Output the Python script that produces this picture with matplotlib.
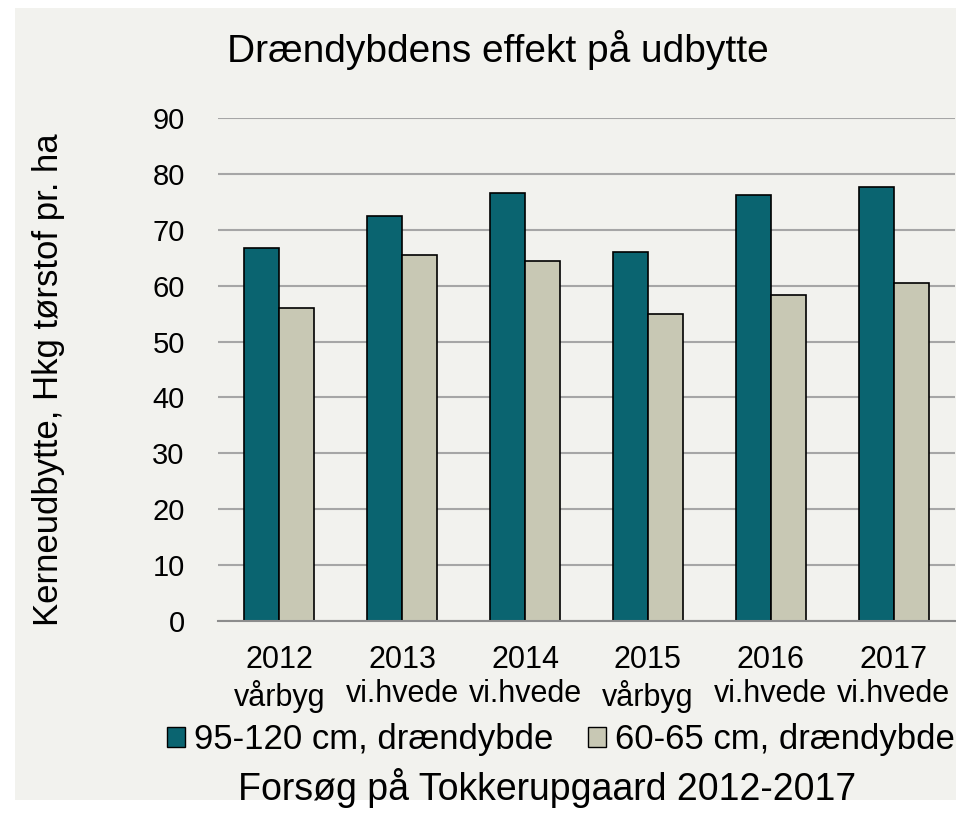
import numpy as np
import matplotlib.pyplot as plt
from matplotlib.patches import Rectangle, Patch

plt.rcParams['font.family'] = ['Liberation Sans', 'DejaVu Sans']

years = ['2012', '2013', '2014', '2015', '2016', '2017']
crops = ['vårbyg', 'vi.hvede', 'vi.hvede', 'vårbyg', 'vi.hvede', 'vi.hvede']
deep = [66.7, 72.4, 76.6, 66.0, 76.2, 77.6]      # 95-120 cm
shallow = [56.0, 65.5, 64.5, 54.9, 58.4, 60.4]   # 60-65 cm

teal = '#0a6470'
beige = '#c8c8b4'
bg = '#f2f2ee'

fig = plt.figure(figsize=(9.56, 8.23), dpi=100)
fig.patch.set_facecolor('white')
# grey chart panel
fig.patches.append(Rectangle((15 / 956, 1 - 800 / 823), 1 - 15 / 956, (800 - 8) / 823,
                             transform=fig.transFigure, facecolor=bg, edgecolor='none', zorder=-5))

ax = fig.add_axes([218 / 956, 1 - 621 / 823, 737 / 956, 503 / 823])
ax.set_zorder(2)
ax.set_facecolor(bg)

x = np.arange(len(years))
w = 0.285
ax.bar(x - w / 2, deep, w, color=teal, edgecolor='black', linewidth=1.2, zorder=3)
ax.bar(x + w / 2, shallow, w, color=beige, edgecolor='black', linewidth=1.2, zorder=3)

ax.set_xlim(-0.5, 5.5)
ax.set_ylim(0, 90)
ax.set_yticks(range(0, 91, 10))
ax.yaxis.grid(True, color='#a6a6a6', linewidth=1.5, zorder=0)
ax.set_axisbelow(True)
for s in ['top', 'right', 'left']:
    ax.spines[s].set_visible(False)
ax.spines['bottom'].set_color('#8c8c8c')
ax.spines['bottom'].set_linewidth(1.5)
ax.spines['bottom'].set_zorder(4)

ax.set_xticks(x)
ax.set_xticklabels([f'{y}\n{c}' for y, c in zip(years, crops)], fontsize=22, linespacing=1.2)
ax.tick_params(axis='x', length=0, pad=17)
ax.tick_params(axis='y', length=0, pad=24, labelsize=21)

fig.text(498 / 956, 1 - 50 / 823, 'Drændybdens effekt på udbytte', fontsize=28,
         ha='center', va='center')
fig.text(49 / 956, 1 - 380 / 823, 'Kerneudbytte, Hkg tørstof pr. ha', fontsize=25,
         rotation=90, ha='center', va='center')
fig.text(547 / 956, 1 - 788 / 823, 'Forsøg på Tokkerupgaard 2012-2017', fontsize=27,
         ha='center', va='center')

handles = [Patch(facecolor=teal, edgecolor='black', linewidth=1),
           Patch(facecolor=beige, edgecolor='black', linewidth=1)]
fig.legend(handles, ['95-120 cm, drændybde', '60-65 cm, drændybde'], loc='center right',
           bbox_to_anchor=(955 / 956, 1 - 740 / 823), ncol=2, frameon=False, fontsize=25,
           handlelength=0.52, handleheight=0.52, handletextpad=0.26, columnspacing=1.0,
           borderpad=0, borderaxespad=0)

fig.savefig('out.png', dpi=100)
